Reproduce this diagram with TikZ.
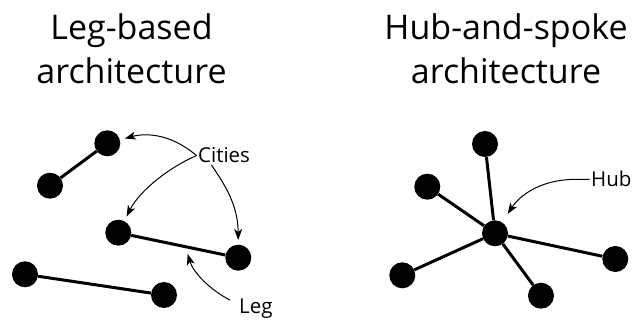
\documentclass[tikz,border=0pt]{standalone}
\usepackage{fontspec}
\setmainfont{Open Sans}
\usetikzlibrary{arrows.meta,calc}
\begin{document}
\begin{tikzpicture}[x=1pt,y=-1pt,
  city/.style={circle,fill=black,minimum size=26pt,inner sep=0pt},
  link/.style={line width=3pt},
  callout/.style={line width=1pt,-{Stealth[length=11pt,width=8pt,inset=3pt]}},
  titletext/.style={font=\fontsize{34}{44}\selectfont,align=center,inner sep=0pt},
  lbl/.style={font=\fontsize{20.5}{24}\selectfont,inner sep=1.5pt}]
\useasboundingbox (0,0) rectangle (635,323);

% titles
\node[titletext] (t1) at (131.5,49) {Leg-based\\architecture};
\node[titletext] (t2) at (506,49) {Hub-and-spoke\\architecture};

% leg-based
\node[city] (A) at (107.3,143.3) {};
\node[city] (B) at (50,185.7) {};
\node[city] (C) at (118.3,232.7) {};
\node[city] (D) at (238.3,257.7) {};
\node[city] (E) at (25,274.3) {};
\node[city] (F) at (164,295) {};
\draw[link] (A) -- (B);
\draw[link] (C) -- (D);
\draw[link] (E) -- (F);

\node[lbl,anchor=base west] (cities) at (196.5,163) {Cities};
\node[lbl,anchor=base west] (leg) at (237.5,313) {Leg};

\coordinate (cs) at ($(cities.south west)!0.27!(cities.south east)$);
\coordinate (ls) at (230,300);
\coordinate (lt) at (187.7,254);

\draw[callout,shorten >=5pt] (cities.west) .. controls (170,133) and (145,133) .. (A);
\draw[callout,shorten >=5pt] (cities.west) .. controls (170,167) and (140,190) .. (C);
\draw[callout,shorten >=4.5pt] (cs) .. controls (225,185) and (238,205) .. (D);
\draw[callout] (ls) .. controls (210,290) and (193,272) .. (lt);

% hub-and-spoke
\node[city] (H) at (495,233.3) {};
\node[city] (S1) at (485,144) {};
\node[city] (S2) at (427.3,186.7) {};
\node[city] (S3) at (402.3,275.3) {};
\node[city] (S4) at (541,295.7) {};
\node[city] (S5) at (615.3,259) {};
\foreach \s in {S1,S2,S3,S4,S5} \draw[link] (H) -- (\s);

\node[lbl,anchor=base west] (hub) at (589.5,187) {Hub};
\draw[callout,shorten >=10pt] (hub.west) -- (570,179.5) .. controls (540,181) and (520,195) .. (H);
\end{tikzpicture}
\end{document}
